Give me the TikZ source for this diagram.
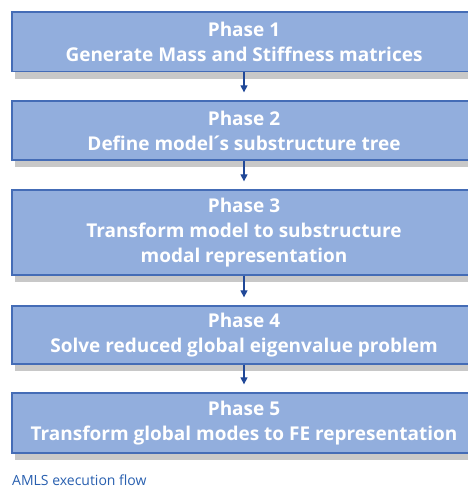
\documentclass[tikz,border=0pt]{standalone}
\usepackage{fontspec}
\setmainfont{Open Sans}
\usetikzlibrary{arrows.meta,shadows}
\definecolor{boxfill}{RGB}{146,174,221}
\definecolor{boxline}{RGB}{68,108,182}
\definecolor{arrowc}{RGB}{32,72,152}
\definecolor{capc}{RGB}{40,95,175}
\definecolor{shadowc}{RGB}{200,200,200}
\begin{document}
\begin{tikzpicture}[x=1pt,y=-1pt,
  phasebox/.style={draw=boxline,line width=1.3pt,fill=boxfill,
    drop shadow={shadow xshift=3pt,shadow yshift=-7pt,fill=shadowc,opacity=1},
    minimum width=464pt,inner sep=0pt,align=center,text=white,
    font=\bfseries\fontsize{19}{25}\selectfont},
  flowarrow/.style={draw=arrowc,line width=1.2pt,-{Triangle[width=7pt,length=7pt]}}]
\useasboundingbox (0,0) rectangle (468,491);
\node[phasebox,minimum height=59.5pt] (p1) at (244,41.75) {Phase 1\\Generate Mass and Stiffness matrices};
\node[phasebox,minimum height=59pt] (p2) at (244,130.5) {Phase 2\\Define model\kern-3pt´\kern-3pt s substructure tree};
\node[phasebox,minimum height=85pt] (p3) at (244,232.5) {Phase 3\\Transform model to substructure\\modal representation};
\node[phasebox,minimum height=58pt] (p4) at (244,335) {Phase 4\\Solve reduced global eigenvalue problem};
\node[phasebox,minimum height=60pt] (p5) at (244,423) {Phase 5\\Transform global modes to FE representation};
\draw[flowarrow] (p1.south) -- ([yshift=8pt]p2.north);
\draw[flowarrow] (p2.south) -- ([yshift=8pt]p3.north);
\draw[flowarrow] (p3.south) -- ([yshift=8pt]p4.north);
\draw[flowarrow] (p4.south) -- ([yshift=8pt]p5.north);
\node[anchor=base west,inner sep=0pt,text=capc,font=\fontsize{14}{16}\selectfont] (cap) at (12,485) {AMLS execution flow};
\end{tikzpicture}
\end{document}
